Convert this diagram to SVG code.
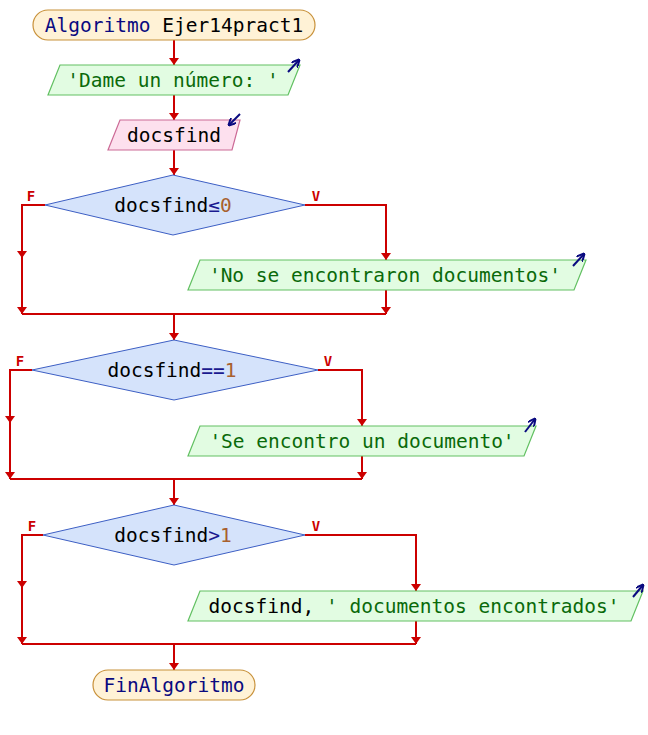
<svg xmlns="http://www.w3.org/2000/svg" width="648" height="735" viewBox="0 0 648 735">
<style>
text{font-family:"DejaVu Sans Mono","Liberation Mono",monospace;font-size:19.5px;text-anchor:middle}
.term{fill:#fff2d6;stroke:#c8913a;stroke-width:1.2}
.out{fill:#e2fce2;stroke:#62c062;stroke-width:1.2}
.inp{fill:#fde0ee;stroke:#cc6a96;stroke-width:1.2}
.dec{fill:#d5e3fb;stroke:#3d5fc4;stroke-width:1}
.kw{fill:#0a0a80}
.id{fill:#000000}
.str{fill:#0a6a0a}
.num{fill:#a8602e}
.op{fill:#1a1a90}
.lbl{fill:#cc0000;font-size:14px;font-weight:bold}
.c{fill:none;stroke:#cc0000;stroke-width:2}
.ic{fill:none;stroke:#0a0a80;stroke-width:2}
</style>
<defs>
<marker id="ah" markerWidth="10" markerHeight="8" refX="5" refY="8" orient="0" markerUnits="userSpaceOnUse">
<path d="M0,1 L10,1 L5,8 Z" fill="#cc0000"/>
</marker>
<marker id="ia" markerWidth="8" markerHeight="8" refX="7" refY="4" orient="auto" markerUnits="userSpaceOnUse">
<path d="M0,0 L8,4 L0,8" fill="none" stroke="#0a0a80" stroke-width="2"/>
</marker>
</defs>
<g id="connectors">
<path class="c" d="M174,40 V65" marker-end="url(#ah)"/>
<path class="c" d="M174,95 V120" marker-end="url(#ah)"/>
<path class="c" d="M174,150 V175" marker-end="url(#ah)"/>
<path class="c" d="M45,205 H22 V258" marker-end="url(#ah)"/>
<path class="c" d="M22,258 V314" marker-end="url(#ah)"/>
<path class="c" d="M305,205 H386 V260" marker-end="url(#ah)"/>
<path class="c" d="M386,290 V314" marker-end="url(#ah)"/>
<path class="c" d="M22,314 H386"/>
<path class="c" d="M174,314 V340" marker-end="url(#ah)"/>
<path class="c" d="M32,370 H10 V423" marker-end="url(#ah)"/>
<path class="c" d="M10,423 V479" marker-end="url(#ah)"/>
<path class="c" d="M318,370 H362 V426" marker-end="url(#ah)"/>
<path class="c" d="M362,456 V479" marker-end="url(#ah)"/>
<path class="c" d="M10,479 H362"/>
<path class="c" d="M174,479 V505" marker-end="url(#ah)"/>
<path class="c" d="M43,535 H22 V588" marker-end="url(#ah)"/>
<path class="c" d="M22,588 V644" marker-end="url(#ah)"/>
<path class="c" d="M305,535 H416 V591" marker-end="url(#ah)"/>
<path class="c" d="M416,621 V644" marker-end="url(#ah)"/>
<path class="c" d="M22,644 H416"/>
<path class="c" d="M174,644 V670" marker-end="url(#ah)"/>
</g>
<g id="start">
<rect class="term" x="33" y="10" width="282" height="30" rx="15"/>
<text x="174" y="32"><tspan class="kw">Algoritmo</tspan> <tspan class="id">Ejer14pract1</tspan></text>
</g>
<g id="out1">
<polygon class="out" points="60,65 300,65 288,95 48,95"/>
<text x="173" y="87" class="str">'Dame un número: '</text>
<path class="ic" d="M288,72 L299,60" marker-end="url(#ia)"/>
</g>
<g id="in1">
<polygon class="inp" points="120,120 240,120 232,150 108,150"/>
<text x="174" y="142" class="id">docsfind</text>
<path class="ic" d="M240,114 L229,125" marker-end="url(#ia)"/>
</g>
<g id="dec1">
<polygon class="dec" points="173,175 305,205 173,235 45,205"/>
<text x="173" y="212"><tspan class="id">docsfind</tspan><tspan class="op">≤</tspan><tspan class="num">0</tspan></text>
<text x="31" y="201" class="lbl">F</text>
<text x="316" y="201" class="lbl">V</text>
</g>
<g id="out2">
<polygon class="out" points="200,260 586,260 574,290 188,290"/>
<text x="385" y="282" class="str">'No se encontraron documentos'</text>
<path class="ic" d="M573,266 L584,254" marker-end="url(#ia)"/>
</g>
<g id="dec2">
<polygon class="dec" points="174,340 318,370 174,400 32,370"/>
<text x="172" y="377"><tspan class="id">docsfind</tspan><tspan class="op">==</tspan><tspan class="num">1</tspan></text>
<text x="20" y="366" class="lbl">F</text>
<text x="328" y="366" class="lbl">V</text>
</g>
<g id="out3">
<polygon class="out" points="200,426 536,426 524,456 188,456"/>
<text x="362" y="448" class="str">'Se encontro un documento'</text>
<path class="ic" d="M525,432 L535,419" marker-end="url(#ia)"/>
</g>
<g id="dec3">
<polygon class="dec" points="174,505 305,535 174,565 43,535"/>
<text x="173" y="542"><tspan class="id">docsfind</tspan><tspan class="op">&gt;</tspan><tspan class="num">1</tspan></text>
<text x="32" y="531" class="lbl">F</text>
<text x="316" y="531" class="lbl">V</text>
</g>
<g id="out4">
<polygon class="out" points="200,591 643,591 631,621 188,621"/>
<text x="414" y="613"><tspan class="id">docsfind,</tspan><tspan class="str"> ' documentos encontrados'</tspan></text>
<path class="ic" d="M633,597 L643,585" marker-end="url(#ia)"/>
</g>
<g id="end">
<rect class="term" x="93" y="670" width="162" height="30" rx="15"/>
<text x="174" y="692" class="kw">FinAlgoritmo</text>
</g>
</svg>
